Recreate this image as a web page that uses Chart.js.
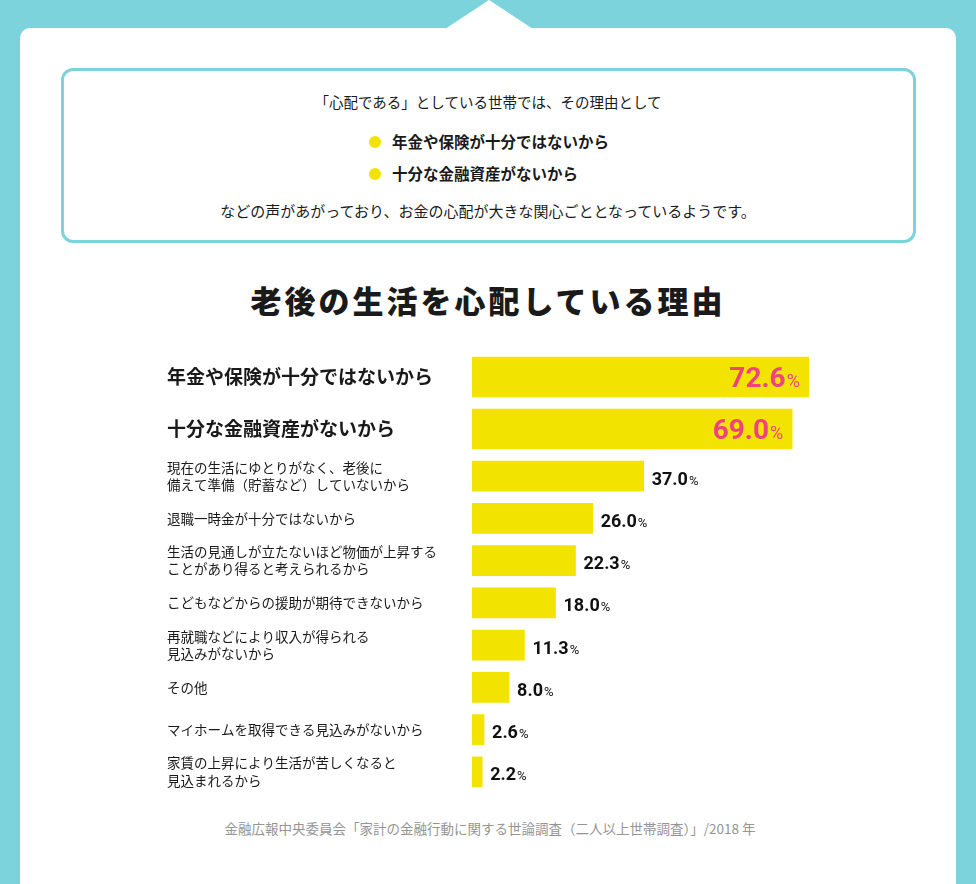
<!DOCTYPE html>
<html lang="ja">
<head>
<meta charset="utf-8">
<script src="https://cdn.jsdelivr.net/npm/chart.js@4.4.1/dist/chart.umd.min.js"></script>
<style>
  html, body { margin: 0; padding: 0; }
  body {
    width: 976px; height: 884px; position: relative; overflow: hidden;
    background: #7dd3db;
    font-family: "Noto Sans CJK JP", "Noto Sans", sans-serif;
    color: #1a1a1a;
  }
  .notch {
    position: absolute; left: 445px; top: 0; width: 88px; height: 29px;
    background: #fff; clip-path: polygon(50% 0, 100% 100%, 0 100%);
  }
  .card {
    position: absolute; left: 20px; top: 28px; width: 936px; height: 900px;
    background: #fff; border-radius: 10px;
  }
  .box {
    position: absolute; left: 61px; top: 68px; width: 849px; height: 169px;
    border: 3px solid #7dd3db; border-radius: 12px;
  }
  .line {
    position: absolute; left: 0; width: 976px; text-align: center;
    font-size: 14.5px; line-height: 20px;
  }
  .pt {
    position: absolute; left: 392px; font-size: 15.5px; font-weight: bold; line-height: 20px;
  }
  .dot {
    position: absolute; width: 12px; height: 12px; border-radius: 50%; background: #f2e400;
  }
  .title {
    position: absolute; left: 0; width: 976px; top: 280px; text-align: center;
    font-size: 31px; font-weight: 900; letter-spacing: 3px; line-height: 40px;
  }
  .source {
    position: absolute; left: 0; width: 980px; top: 818px; text-align: center;
    font-size: 13.5px; color: #959595; line-height: 20px;
  }
  canvas { position: absolute; }
</style>
</head>
<body>
<div class="notch"></div>
<div class="card"></div>
<div class="box"></div>
<div class="line" style="top:92px">「心配である」としている世帯では、その理由として</div>
<div class="dot" style="left:369px; top:136px"></div>
<div class="pt" style="top:131px">年金や保険が十分ではないから</div>
<div class="dot" style="left:369px; top:168px"></div>
<div class="pt" style="top:163px">十分な金融資産がないから</div>
<div class="line" style="top:201px; font-size:15px">などの声があがっており、お金の心配が大きな関心ごととなっているようです。</div>
<div class="title">老後の生活を心配している理由</div>
<canvas id="topChart" width="769" height="104" style="left:167px; top:351px"></canvas>
<canvas id="restChart" width="769" height="338" style="left:167px; top:455px"></canvas>
<div class="source">金融広報中央委員会「家計の金融行動に関する世論調査（二人以上世帯調査）」/2018 年</div>

<script>
// main two reasons (shown bigger)
var topLabels = ['年金や保険が十分ではないから', '十分な金融資産がないから'];
var topValues = [72.6, 69.0];

// other reasons
var restLabels = [
    ['現在の生活にゆとりがなく、老後に', '備えて準備（貯蓄など）していないから'],
    '退職一時金が十分ではないから',
    ['生活の見通しが立たないほど物価が上昇する', 'ことがあり得ると考えられるから'],
    'こどもなどからの援助が期待できないから',
    ['再就職などにより収入が得られる', '見込みがないから'],
    'その他',
    'マイホームを取得できる見込みがないから',
    ['家賃の上昇により生活が苦しくなると', '見込まれるから']
];
var restValues = [37.0, 26.0, 22.3, 18.0, 11.3, 8.0, 2.6, 2.2];

var JP = '"Noto Sans CJK JP", sans-serif';
var NUM = 'Roboto, "Noto Sans", sans-serif';
var YELLOW = '#f2e400';

// draws "72.6%" style labels next to / inside the bars
var valueLabels = {
    id: 'valueLabels',
    afterDatasetsDraw: function(chart, args, opts) {
        var ctx = chart.ctx;
        var meta = chart.getDatasetMeta(0);
        var data = chart.data.datasets[0].data;
        ctx.save();
        ctx.textBaseline = 'alphabetic';
        meta.data.forEach(function(bar, i) {
            var num = data[i].toFixed(1);
            ctx.font = 'bold ' + opts.numSize + 'px ' + NUM;
            var wNum = ctx.measureText(num).width;
            ctx.font = opts.pctSize + 'px ' + NUM;
            var wPct = ctx.measureText('%').width;
            var x;
            if(opts.inside) {
                x = bar.x - opts.gap - wPct - wNum;
            } else {
                x = bar.x + opts.gap;
            }
            var y = bar.y + opts.shift;
            ctx.fillStyle = opts.color;
            ctx.textAlign = 'left';
            ctx.font = 'bold ' + opts.numSize + 'px ' + NUM;
            ctx.fillText(num, x, y);
            ctx.font = opts.pctSize + 'px ' + NUM;
            ctx.fillText('%', x + wNum + 1, y);
        });
        ctx.restore();
    }
};

function make_chart(id, labels, values, thickness, tickFont, labelOpts) {
    var ctx = document.getElementById(id).getContext('2d');
    return new Chart(ctx, {
        type: 'bar',
        data: {
            labels: labels,
            datasets: [{
                data: values,
                backgroundColor: YELLOW,
                borderWidth: 0,
                barThickness: thickness,
                categoryPercentage: 1,
                barPercentage: 1
            }]
        },
        plugins: [valueLabels],
        options: {
            indexAxis: 'y',
            responsive: false,
            animation: false,
            layout: { padding: 0 },
            plugins: {
                legend: { display: false },
                tooltip: { enabled: false },
                valueLabels: labelOpts
            },
            scales: {
                x: { display: false, min: 0, max: 100 },
                y: {
                    grid: { display: false },
                    border: { display: false },
                    ticks: {
                        crossAlign: 'far',
                        padding: 0,
                        color: '#1a1a1a',
                        font: tickFont
                    },
                    afterFit: function(scale) {
                        // fixed label column, no extra room above/below the rows
                        scale.width = 305;
                        scale.paddingTop = 0;
                        scale.paddingBottom = 0;
                    }
                }
            }
        }
    });
}

make_chart('topChart', topLabels, topValues, 40,
    { family: JP, size: 19, weight: 'bold' },
    { inside: true, gap: 10, shift: 10, numSize: 28, pctSize: 18, color: '#f0437e' });

make_chart('restChart', restLabels, restValues, 30,
    { family: JP, size: 13.5, lineHeight: 1.27 },
    { inside: false, gap: 8, shift: 8.5, numSize: 18, pctSize: 13, color: '#111' });
</script>
</body>
</html>
